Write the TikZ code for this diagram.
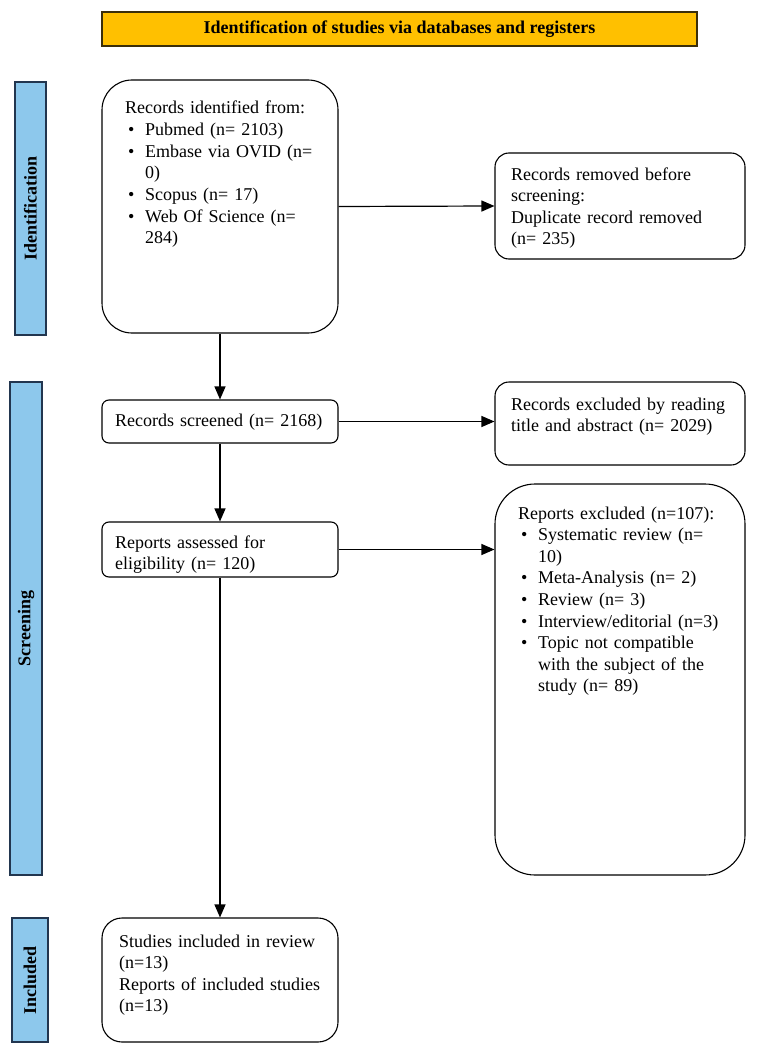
\documentclass[tikz,border=0pt]{standalone}
\usepackage{fontspec}
\setmainfont{Liberation Serif}
\usetikzlibrary{arrows.meta}
\definecolor{hdr}{HTML}{FFC000}
\definecolor{hdrline}{HTML}{3B2F0A}
\definecolor{barfill}{HTML}{8DC8EC}
\definecolor{barline}{HTML}{22364F}
\newcommand\myblt{\makebox[20pt][l]{\hspace{3pt}•}}
\newcommand\myind{\hspace*{20pt}}
\tikzset{
  box/.style={draw=black, line width=1.1pt, fill=white, inner sep=0pt},
  txt/.style={anchor=base west, inner sep=0pt, text width=245pt, align=left,
              font=\fontsize{18}{21.6}\selectfont},
  bar/.style={draw=barline, fill=barfill, line width=1.3pt, inner sep=0pt},
  barlabel/.style={rotate=90, inner sep=0pt, font=\fontsize{18}{21.6}\selectfont\bfseries},
  arr/.style={line width=1.2pt, -{Triangle[length=13pt,width=11pt]}},
}
\begin{document}
\begin{tikzpicture}[x=1pt,y=-1pt]
\useasboundingbox (0,0) rectangle (758,1051);
% header
\node[draw=hdrline, fill=hdr, line width=1.2pt, minimum width=595pt, minimum height=34pt,
      inner sep=0pt, font=\fontsize{18}{21.6}\selectfont\bfseries] (hdr) at (399.5,29)
      {Identification of studies via databases and registers};
% side bars
\node[bar, minimum width=31pt, minimum height=253pt] (barI) at (30.5,208.5) {};
\node[barlabel] (barIT) at (barI.center) {Identification};
\node[bar, minimum width=32pt, minimum height=493pt] (barS) at (26,628.5) {};
\node[barlabel] (barST) at (barS.center) {Screening};
\node[bar, minimum width=36pt, minimum height=124pt] (barN) at (30,980) {};
\node[barlabel] (barNT) at (barN.center) {Included};
% boxes
\node[box, rounded corners=30pt, minimum width=236pt, minimum height=253pt] (ident) at (220,206.5) {};
\node[box, rounded corners=14pt, minimum width=250pt, minimum height=106pt] (removed) at (620,206) {};
\node[box, rounded corners=7pt, minimum width=236pt, minimum height=43pt] (screened) at (220,421.5) {};
\node[box, rounded corners=14pt, minimum width=250pt, minimum height=83pt] (excl) at (620,423.5) {};
\node[box, rounded corners=7pt, minimum width=236pt, minimum height=55pt] (assessed) at (220,549.5) {};
\node[box, rounded corners=40pt, minimum width=250pt, minimum height=391pt] (rexcl) at (620,679.5) {};
\node[box, rounded corners=20pt, minimum width=236pt, minimum height=124pt] (studies) at (220,980) {};
% texts
\node[txt] (identT) at (125,114) {Records identified from:\\
  \myblt Pubmed (n= 2103)\\
  \myblt Embase via OVID (n=\\
  \myind 0)\\
  \myblt Scopus (n= 17)\\
  \myblt Web Of Science (n=\\
  \myind 284)};
\node[txt] (removedT) at (511,180) {Records removed before\\screening:\\Duplicate record removed\\(n= 235)};
\node[txt] (screenedT) at (115,426) {Records screened (n= 2168)};
\node[txt] (exclT) at (511,410) {Records excluded by reading\\title and abstract (n= 2029)};
\node[txt] (assessedT) at (115,548) {Reports assessed for\\eligibility (n= 120)};
\node[txt] (rexclT) at (518,519) {Reports excluded (n=107):\\
  \myblt Systematic review (n=\\
  \myind 10)\\
  \myblt Meta-Analysis (n= 2)\\
  \myblt Review (n= 3)\\
  \myblt Interview/editorial (n=3)\\
  \myblt Topic not compatible\\
  \myind with the subject of the\\
  \myind study (n= 89)};
\node[txt] (studiesT) at (119,947) {Studies included in review\\(n=13)\\Reports of included studies\\(n=13)};
% arrows
\draw[arr] (ident.south) -- (screened.north);
\draw[arr] (screened.south) -- (assessed.north);
\draw[arr] (assessed.south) -- (studies.north);
\draw[arr] (ident.east) -- (removed.west);
\draw[arr] (screened.east) -- (screened.east -| excl.west);
\draw[arr] (assessed.east) -- (assessed.east -| rexcl.west);
\end{tikzpicture}
\end{document}
